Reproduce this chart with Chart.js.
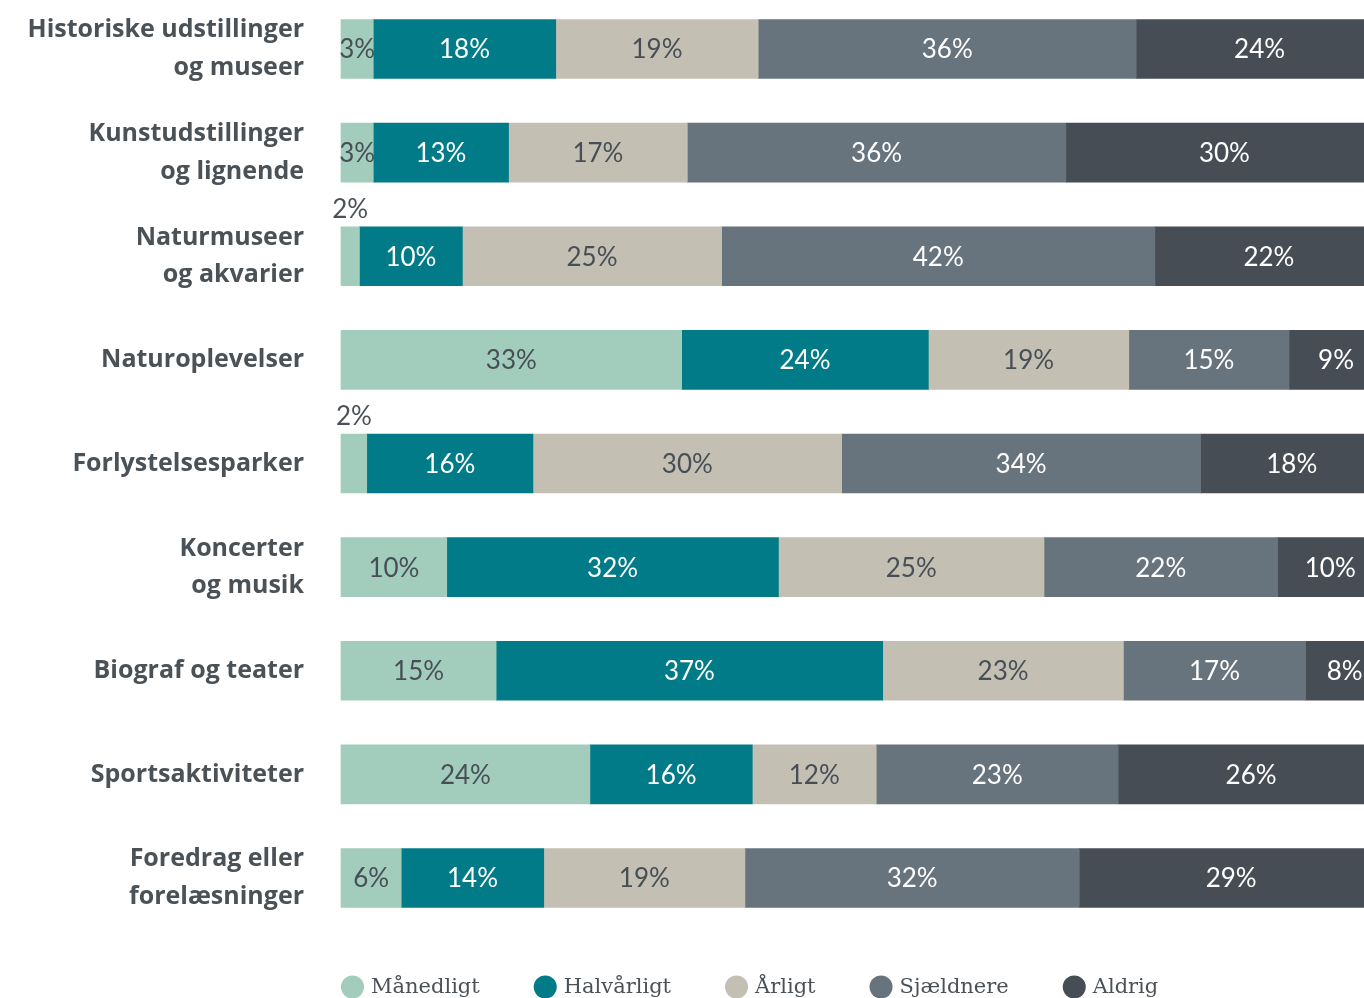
<!DOCTYPE html>
<html lang="da">
<head>
<meta charset="UTF-8">
<title>Kulturbesøg</title>
<script src="https://cdn.jsdelivr.net/npm/chart.js"></script>
<style>
  html, body { margin: 0; padding: 0; background: #fff; overflow: hidden; }
  #wrap { width: 1364px; height: 998px; position: relative; }
</style>
</head>
<body>
<div id="wrap"><canvas id="chart"></canvas></div>
<script>
  const categories = [
    ["Historiske udstillinger", "og museer"],
    ["Kunstudstillinger", "og lignende"],
    ["Naturmuseer", "og akvarier"],
    "Naturoplevelser",
    "Forlystelsesparker",
    ["Koncerter", "og musik"],
    "Biograf og teater",
    "Sportsaktiviteter",
    ["Foredrag eller", "forelæsninger"]
  ];

  const seriesNames = ["Månedligt", "Halvårligt", "Årligt", "Sjældnere", "Aldrig"];

  // shares in percent (labels are the rounded values)
  const maanedligt = [3.10, 3.10, 1.77, 32.69, 2.47, 10.15, 14.89, 23.89, 5.78];
  const halvaarligt = [17.51, 12.98, 9.88, 23.68, 15.95, 31.83, 37.10, 15.58, 13.68];
  const aarligt = [19.43, 17.16, 24.88, 19.24, 29.63, 25.49, 23.10, 11.90, 19.31];
  const sjaeldnere = [36.28, 36.33, 41.58, 15.38, 34.44, 22.41, 17.48, 23.22, 32.09];
  const aldrig = [23.68, 30.43, 21.89, 9.01, 17.51, 10.12, 7.50, 25.50, 29.14];

  const colors = ["#a2cdbc", "#007b87", "#c3c0b3", "#67737d", "#464d55"];
  const labelColors = ["#474e55", "#ffffff", "#474e55", "#ffffff", "#ffffff"];
  const textDark = "#4a5157";

  const seriesValues = [maanedligt, halvaarligt, aarligt, sjaeldnere, aldrig];

  // percent labels centred in each segment, tiny ones above the bar
  const valueLabels = {
    id: 'valueLabels',
    afterDatasetsDraw(chart) {
      const ctx = chart.ctx;
      ctx.save();
      ctx.font = '26px Lato';
      ctx.textAlign = 'center';
      ctx.textBaseline = 'middle';
      chart.data.datasets.forEach((ds, i) => {
        const meta = chart.getDatasetMeta(i);
        meta.data.forEach((bar, j) => {
          const v = ds.data[j];
          const cx = (bar.x + bar.base) / 2;
          let cy = bar.y;
          ctx.fillStyle = labelColors[i];
          if (v < 2.5) {
            cy = bar.y - bar.height / 2 - 18;
            ctx.fillStyle = textDark;
          }
          ctx.fillText(Math.round(v) + '%', cx, cy + 1);
        });
      });
      ctx.restore();
    }
  };

  // round-dot legend under the bars, starting at the plot's left edge
  const dotLegend = {
    id: 'dotLegend',
    afterDraw(chart) {
      const ctx = chart.ctx;
      const y = 987;
      let x = chart.chartArea.left;
      ctx.save();
      ctx.font = '21px "DejaVu Serif"';
      ctx.textBaseline = 'middle';
      ctx.textAlign = 'left';
      chart.data.datasets.forEach(ds => {
        ctx.fillStyle = ds.backgroundColor;
        ctx.beginPath();
        ctx.arc(x + 11.5, y, 11.5, 0, Math.PI * 2);
        ctx.fill();
        ctx.fillStyle = textDark;
        ctx.fillText(ds.label, x + 30, y + 1);
        x += 30 + ctx.measureText(ds.label).width + 54;
      });
      ctx.restore();
    }
  };

  new Chart(document.getElementById('chart'), {
    type: 'bar',
    data: {
      labels: categories,
      datasets: seriesNames.map((name, i) => ({
        label: name,
        data: seriesValues[i],
        backgroundColor: colors[i],
        borderWidth: 0,
        barThickness: 59,
        clip: false
      }))
    },
    options: {
      indexAxis: 'y',
      responsive: true,
      maintainAspectRatio: false,
      animation: false,
      layout: { padding: { top: 49, bottom: 120, left: 0, right: 0 } },
      scales: {
        x: {
          stacked: true,
          min: 0,
          max: 98.18,
          display: false
        },
        y: {
          stacked: true,
          offset: false,
          grid: { display: false },
          border: { display: false },
          afterFit(scale) {
            scale.width = 341;
            scale.paddingTop = 0;
            scale.paddingBottom = 0;
          },
          ticks: {
            color: textDark,
            padding: 29,
            font: { family: '"Open Sans"', size: 25, weight: 'bold', lineHeight: 1.5 }
          }
        }
      },
      plugins: {
        legend: { display: false },
        tooltip: { enabled: false }
      }
    },
    plugins: [valueLabels, dotLegend]
  });
</script>
</body>
</html>
